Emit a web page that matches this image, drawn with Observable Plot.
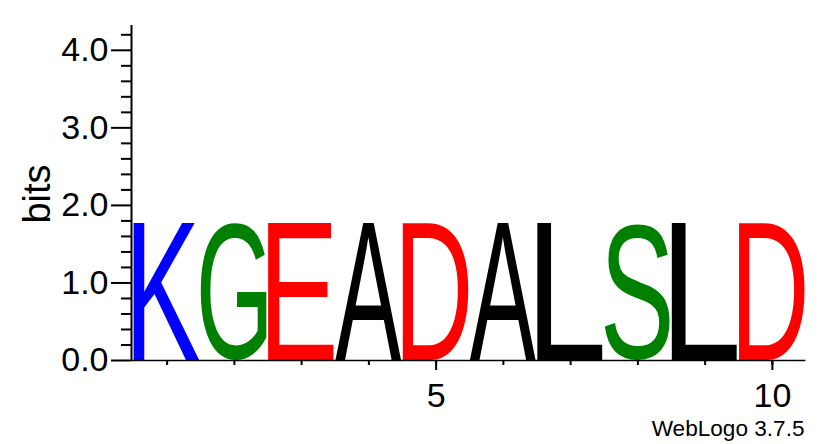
<!DOCTYPE html>
<html>
<head>
<meta charset="utf-8">
<script src="https://cdn.jsdelivr.net/npm/d3@7"></script>
<script src="https://cdn.jsdelivr.net/npm/@observablehq/plot@0.6"></script>
<style>
  body { margin: 0; background: #fff; }
</style>
</head>
<body>
<div id="chart"></div>
<script>
// posiciones del logo, letra de cada columna y su altura en bits
const positions = [1, 2, 3, 4, 5, 6, 7, 8, 9, 10]
const letters = ["K", "G", "E", "A", "D", "A", "L", "S", "L", "D"]
const bits = [1.77, 1.77, 1.77, 1.77, 1.77, 1.77, 1.77, 1.77, 1.77, 1.77]

// ticks de los ejes
const yMajorTicks = [0, 1, 2, 3, 4]
const yMinorTicks = [0.2, 0.4, 0.6, 0.8, 1.2, 1.4, 1.6, 1.8, 2.2, 2.4, 2.6, 2.8, 3.2, 3.4, 3.6, 3.8, 4.2]
const xLabelTicks = [5, 10]

// colores por residuo
const residues = ["K", "G", "S", "E", "D", "A", "L"]
const residueColors = ["#0000ff", "#008000", "#008000", "#ff0000", "#ff0000", "#000000", "#000000"]

const data = positions.map((p, i) => ({pos: p, letter: letters[i], bits: bits[i]}))
const color = d3.scaleOrdinal(residues, residueColors)

// medimos la tinta real de cada letra para estirarla a su columna
const ctx = document.createElement("canvas").getContext("2d")
ctx.font = "100px 'Liberation Sans'"
ctx.textAlign = "left"
ctx.textBaseline = "alphabetic"

function fitLetters(index, scales) {
  const g = d3.create("svg:g")
  for (const i of index) {
    const d = data[i]
    const m = ctx.measureText(d.letter)
    const L = m.actualBoundingBoxLeft, R = m.actualBoundingBoxRight
    const A = m.actualBoundingBoxAscent, D = m.actualBoundingBoxDescent
    const x0 = scales.x(d.pos - 0.5) + 0.5, x1 = scales.x(d.pos + 0.5) - 0.5
    const yb = scales.y(0), yt = scales.y(d.bits)
    const sx = (x1 - x0) / (L + R), sy = (yb - yt) / (A + D)
    g.append("text")
      .attr("transform", `translate(${x0 + L * sx},${yb - D * sy}) scale(${sx},${sy})`)
      .attr("text-anchor", "start")
      .attr("dominant-baseline", "alphabetic")
      .attr("font-family", "Liberation Sans")
      .attr("font-weight", "normal")
      .attr("font-size", 100)
      .attr("stroke", "none")
      .attr("fill", color(d.letter))
      .text(d.letter)
  }
  return g.node()
}

let chart = Plot.plot({
  width: 831,
  height: 444,
  marginLeft: 133,
  marginRight: 25.5,
  marginTop: 25,
  marginBottom: 84,
  style: {fontFamily: "Liberation Sans", fontSize: "34px", background: "#fff", color: "#000"},
  x: {domain: [0.5, 10.5], axis: null},
  y: {domain: [0, 4.32], axis: null},
  marks: [
    Plot.text(data, {x: "pos", y: "bits", text: "letter", render: fitLetters}),
    Plot.ruleY([0], {insetLeft: -2, strokeWidth: 1.5}),
    Plot.ruleX([0.5], {dx: -2, strokeWidth: 2}),
    Plot.axisY(yMinorTicks, {tickSize: 10, text: null, dx: -2, strokeWidth: 2, label: null}),
    Plot.axisY(yMajorTicks, {tickSize: 20, tickPadding: 3, dx: -2, strokeWidth: 2,
      tickFormat: d3.format(".1f"), fontSize: 34, label: null}),
    Plot.axisX(positions, {tickSize: 5, text: null, strokeWidth: 2, label: null}),
    Plot.axisX(xLabelTicks, {tickSize: 10, tickPadding: 12, strokeWidth: 2, fontSize: 34, label: null}),
    Plot.text(["bits"], {frameAnchor: "left", textAnchor: "middle", rotate: -90, dx: -96, dy: 1, fontSize: 38}),
    Plot.text(["WebLogo 3.7.5"], {frameAnchor: "bottom-right", textAnchor: "end", lineAnchor: "bottom",
      dx: -1.5, dy: 75, fontSize: 22.6})
  ]
})

d3.select('#chart').append(() => chart)
</script>
</body>
</html>
